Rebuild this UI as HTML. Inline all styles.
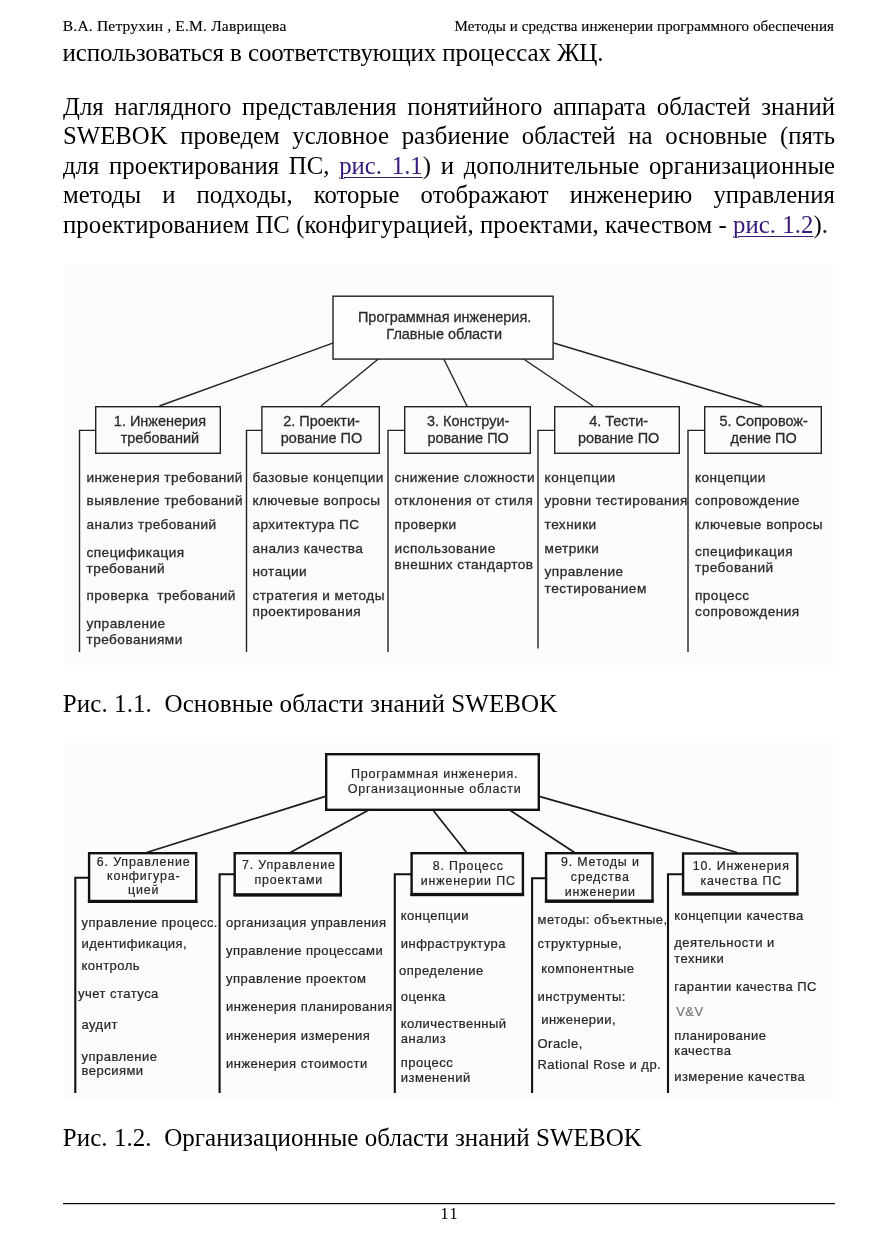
<!DOCTYPE html>
<html><head><meta charset="utf-8"><title>SWEBOK</title>
<style>
html,body{margin:0;padding:0;background:#fff;}
body{width:877px;height:1241px;position:relative;overflow:hidden;}
svg{position:absolute;left:0;top:0;will-change:transform;}
.pl{position:absolute;left:63px;width:772px;font-family:"Liberation Serif",serif;font-size:24.75px;line-height:24.75px;color:#000;white-space:nowrap;}
.j{text-align:justify;text-align-last:justify;white-space:normal;}
.lk{color:#38187a;text-decoration:underline;text-decoration-thickness:1.3px;text-underline-offset:3px;}
</style></head><body>
<svg width="877" height="1241" viewBox="0 0 877 1241">
<text x="62.8" y="30.9" font-size="15.5" font-family="Liberation Serif" fill="#000" stroke="#000" stroke-width="0.15" textLength="223.5" lengthAdjust="spacing">В.А. Петрухин , Е.М. Лаврищева</text>
<text x="454.5" y="30.9" font-size="15" font-family="Liberation Serif" fill="#000" stroke="#000" stroke-width="0.15" textLength="379.5" lengthAdjust="spacing">Методы и средства инженерии программного обеспечения</text>
<text x="62.5" y="61" font-size="25" font-family="Liberation Serif" fill="#000" textLength="541" lengthAdjust="spacing">использоваться в соответствующих процессах ЖЦ.</text>
<rect x="64" y="264" width="769" height="401" fill="#fbfdfa"/>
<rect x="64" y="665" width="769" height="7" fill="#fdfdfb"/>
<rect x="64" y="744" width="769" height="356" fill="#fbfdfa"/>
<rect x="64" y="736" width="769" height="8" fill="#fdfdfb"/>
<rect x="333.0" y="296.2" width="220.09999999999994" height="62.90000000000001" stroke="#222" stroke-width="1.4" fill="#fdfdfc"/>
<text transform="translate(444.6,321.9) scale(0.965,1)" x="0" y="0" font-size="15.0" font-family="Liberation Sans" fill="#2b2b2b" text-anchor="middle" stroke="#2b2b2b" stroke-width="0.3">Программная инженерия.</text>
<text transform="translate(444.2,338.9) scale(0.965,1)" x="0" y="0" font-size="15.0" font-family="Liberation Sans" fill="#2b2b2b" text-anchor="middle" stroke="#2b2b2b" stroke-width="0.3">Главные области</text>
<rect x="95.7" y="406.7" width="124.6" height="46.6" stroke="#222" stroke-width="1.4" fill="none"/>
<text transform="translate(159.9,426.1) scale(0.965,1)" x="0" y="0" font-size="15.0" font-family="Liberation Sans" fill="#2b2b2b" text-anchor="middle" stroke="#2b2b2b" stroke-width="0.3">1. Инженерия</text>
<text transform="translate(159.9,442.8) scale(0.965,1)" x="0" y="0" font-size="15.0" font-family="Liberation Sans" fill="#2b2b2b" text-anchor="middle" stroke="#2b2b2b" stroke-width="0.3">требований</text>
<rect x="261.9" y="406.7" width="117.4" height="46.6" stroke="#222" stroke-width="1.4" fill="none"/>
<text transform="translate(321.50000000000006,426.1) scale(0.965,1)" x="0" y="0" font-size="15.0" font-family="Liberation Sans" fill="#2b2b2b" text-anchor="middle" stroke="#2b2b2b" stroke-width="0.3">2. Проекти-</text>
<text transform="translate(321.50000000000006,442.8) scale(0.965,1)" x="0" y="0" font-size="15.0" font-family="Liberation Sans" fill="#2b2b2b" text-anchor="middle" stroke="#2b2b2b" stroke-width="0.3">рование ПО</text>
<rect x="404.7" y="406.7" width="125.6" height="46.6" stroke="#222" stroke-width="1.4" fill="none"/>
<text transform="translate(468.1,426.1) scale(0.965,1)" x="0" y="0" font-size="15.0" font-family="Liberation Sans" fill="#2b2b2b" text-anchor="middle" stroke="#2b2b2b" stroke-width="0.3">3. Конструи-</text>
<text transform="translate(468.1,442.8) scale(0.965,1)" x="0" y="0" font-size="15.0" font-family="Liberation Sans" fill="#2b2b2b" text-anchor="middle" stroke="#2b2b2b" stroke-width="0.3">рование ПО</text>
<rect x="554.7" y="406.7" width="124.6" height="46.6" stroke="#222" stroke-width="1.4" fill="none"/>
<text transform="translate(618.6,426.1) scale(0.965,1)" x="0" y="0" font-size="15.0" font-family="Liberation Sans" fill="#2b2b2b" text-anchor="middle" stroke="#2b2b2b" stroke-width="0.3">4. Тести-</text>
<text transform="translate(618.6,442.8) scale(0.965,1)" x="0" y="0" font-size="15.0" font-family="Liberation Sans" fill="#2b2b2b" text-anchor="middle" stroke="#2b2b2b" stroke-width="0.3">рование ПО</text>
<rect x="704.7" y="406.7" width="116.6" height="46.6" stroke="#222" stroke-width="1.4" fill="none"/>
<text transform="translate(763.6,426.1) scale(0.965,1)" x="0" y="0" font-size="15.0" font-family="Liberation Sans" fill="#2b2b2b" text-anchor="middle" stroke="#2b2b2b" stroke-width="0.3">5. Сопровож-</text>
<text transform="translate(763.6,442.8) scale(0.965,1)" x="0" y="0" font-size="15.0" font-family="Liberation Sans" fill="#2b2b2b" text-anchor="middle" stroke="#2b2b2b" stroke-width="0.3">дение ПО</text>
<line x1="333.4" y1="342.8" x2="159.4" y2="406" stroke="#222" stroke-width="1.4"/>
<line x1="378.3" y1="359" x2="321" y2="406" stroke="#222" stroke-width="1.4"/>
<line x1="443.8" y1="359" x2="467" y2="406" stroke="#222" stroke-width="1.4"/>
<line x1="523.6" y1="359" x2="593" y2="406" stroke="#222" stroke-width="1.4"/>
<line x1="553.7" y1="343" x2="762.4" y2="406" stroke="#222" stroke-width="1.4"/>
<polyline points="95,430.4 79.5,430.4 79.5,652" fill="none" stroke="#222" stroke-width="1.4"/>
<polyline points="262,430.4 246.5,430.4 246.5,652" fill="none" stroke="#222" stroke-width="1.4"/>
<polyline points="404,430.4 388,430.4 388,652" fill="none" stroke="#222" stroke-width="1.4"/>
<polyline points="554,430.4 538,430.4 538,648.5" fill="none" stroke="#222" stroke-width="1.4"/>
<polyline points="704,430.4 688,430.4 688,652" fill="none" stroke="#222" stroke-width="1.4"/>
<text x="86.5" y="481.7" font-size="13.6" font-family="Liberation Sans" fill="#2b2b2b" stroke="#2b2b2b" stroke-width="0.3" letter-spacing="0.47" xml:space="preserve">инженерия требований</text>
<text x="86.5" y="505.3" font-size="13.6" font-family="Liberation Sans" fill="#2b2b2b" stroke="#2b2b2b" stroke-width="0.3" letter-spacing="0.47" xml:space="preserve">выявление требований</text>
<text x="86.5" y="528.6" font-size="13.6" font-family="Liberation Sans" fill="#2b2b2b" stroke="#2b2b2b" stroke-width="0.3" letter-spacing="0.47" xml:space="preserve">анализ требований</text>
<text x="86.5" y="556.6" font-size="13.6" font-family="Liberation Sans" fill="#2b2b2b" stroke="#2b2b2b" stroke-width="0.3" letter-spacing="0.47" xml:space="preserve">спецификация</text>
<text x="86.5" y="573" font-size="13.6" font-family="Liberation Sans" fill="#2b2b2b" stroke="#2b2b2b" stroke-width="0.3" letter-spacing="0.47" xml:space="preserve">требований</text>
<text x="86.5" y="599.7" font-size="13.6" font-family="Liberation Sans" fill="#2b2b2b" stroke="#2b2b2b" stroke-width="0.3" letter-spacing="0.47" xml:space="preserve">проверка  требований</text>
<text x="86.5" y="628" font-size="13.6" font-family="Liberation Sans" fill="#2b2b2b" stroke="#2b2b2b" stroke-width="0.3" letter-spacing="0.47" xml:space="preserve">управление</text>
<text x="86.5" y="644" font-size="13.6" font-family="Liberation Sans" fill="#2b2b2b" stroke="#2b2b2b" stroke-width="0.3" letter-spacing="0.47" xml:space="preserve">требованиями</text>
<text x="252.4" y="481.5" font-size="13.6" font-family="Liberation Sans" fill="#2b2b2b" stroke="#2b2b2b" stroke-width="0.3" letter-spacing="0.47" xml:space="preserve">базовые концепции</text>
<text x="252.4" y="504.8" font-size="13.6" font-family="Liberation Sans" fill="#2b2b2b" stroke="#2b2b2b" stroke-width="0.3" letter-spacing="0.47" xml:space="preserve">ключевые вопросы</text>
<text x="252.4" y="528.9" font-size="13.6" font-family="Liberation Sans" fill="#2b2b2b" stroke="#2b2b2b" stroke-width="0.3" letter-spacing="0.47" xml:space="preserve">архитектура ПС</text>
<text x="252.4" y="552.6" font-size="13.6" font-family="Liberation Sans" fill="#2b2b2b" stroke="#2b2b2b" stroke-width="0.3" letter-spacing="0.47" xml:space="preserve">анализ качества</text>
<text x="252.4" y="576.4" font-size="13.6" font-family="Liberation Sans" fill="#2b2b2b" stroke="#2b2b2b" stroke-width="0.3" letter-spacing="0.47" xml:space="preserve">нотации</text>
<text x="252.4" y="600" font-size="13.6" font-family="Liberation Sans" fill="#2b2b2b" stroke="#2b2b2b" stroke-width="0.3" letter-spacing="0.47" xml:space="preserve">стратегия и методы</text>
<text x="252.4" y="615.6" font-size="13.6" font-family="Liberation Sans" fill="#2b2b2b" stroke="#2b2b2b" stroke-width="0.3" letter-spacing="0.47" xml:space="preserve">проектирования</text>
<text x="394.6" y="481.5" font-size="13.6" font-family="Liberation Sans" fill="#2b2b2b" stroke="#2b2b2b" stroke-width="0.3" letter-spacing="0.47" xml:space="preserve">снижение сложности</text>
<text x="394.6" y="505.2" font-size="13.6" font-family="Liberation Sans" fill="#2b2b2b" stroke="#2b2b2b" stroke-width="0.3" letter-spacing="0.47" xml:space="preserve">отклонения от стиля</text>
<text x="394.6" y="528.9" font-size="13.6" font-family="Liberation Sans" fill="#2b2b2b" stroke="#2b2b2b" stroke-width="0.3" letter-spacing="0.47" xml:space="preserve">проверки</text>
<text x="394.6" y="552.6" font-size="13.6" font-family="Liberation Sans" fill="#2b2b2b" stroke="#2b2b2b" stroke-width="0.3" letter-spacing="0.47" xml:space="preserve">использование</text>
<text x="394.6" y="569" font-size="13.6" font-family="Liberation Sans" fill="#2b2b2b" stroke="#2b2b2b" stroke-width="0.3" letter-spacing="0.47" xml:space="preserve">внешних стандартов</text>
<text x="544.6" y="481.5" font-size="13.6" font-family="Liberation Sans" fill="#2b2b2b" stroke="#2b2b2b" stroke-width="0.3" letter-spacing="0.47" xml:space="preserve">концепции</text>
<text x="544.6" y="505.2" font-size="13.6" font-family="Liberation Sans" fill="#2b2b2b" stroke="#2b2b2b" stroke-width="0.3" letter-spacing="0.47" xml:space="preserve">уровни тестирования</text>
<text x="544.6" y="528.9" font-size="13.6" font-family="Liberation Sans" fill="#2b2b2b" stroke="#2b2b2b" stroke-width="0.3" letter-spacing="0.47" xml:space="preserve">техники</text>
<text x="544.6" y="552.6" font-size="13.6" font-family="Liberation Sans" fill="#2b2b2b" stroke="#2b2b2b" stroke-width="0.3" letter-spacing="0.47" xml:space="preserve">метрики</text>
<text x="544.6" y="576.4" font-size="13.6" font-family="Liberation Sans" fill="#2b2b2b" stroke="#2b2b2b" stroke-width="0.3" letter-spacing="0.47" xml:space="preserve">управление</text>
<text x="544.6" y="592.8" font-size="13.6" font-family="Liberation Sans" fill="#2b2b2b" stroke="#2b2b2b" stroke-width="0.3" letter-spacing="0.47" xml:space="preserve">тестированием</text>
<text x="695" y="481.5" font-size="13.6" font-family="Liberation Sans" fill="#2b2b2b" stroke="#2b2b2b" stroke-width="0.3" letter-spacing="0.47" xml:space="preserve">концепции</text>
<text x="695" y="505.2" font-size="13.6" font-family="Liberation Sans" fill="#2b2b2b" stroke="#2b2b2b" stroke-width="0.3" letter-spacing="0.47" xml:space="preserve">сопровождение</text>
<text x="695" y="528.9" font-size="13.6" font-family="Liberation Sans" fill="#2b2b2b" stroke="#2b2b2b" stroke-width="0.3" letter-spacing="0.47" xml:space="preserve">ключевые вопросы</text>
<text x="695" y="556.3" font-size="13.6" font-family="Liberation Sans" fill="#2b2b2b" stroke="#2b2b2b" stroke-width="0.3" letter-spacing="0.47" xml:space="preserve">спецификация</text>
<text x="695" y="571.8" font-size="13.6" font-family="Liberation Sans" fill="#2b2b2b" stroke="#2b2b2b" stroke-width="0.3" letter-spacing="0.47" xml:space="preserve">требований</text>
<text x="695" y="600" font-size="13.6" font-family="Liberation Sans" fill="#2b2b2b" stroke="#2b2b2b" stroke-width="0.3" letter-spacing="0.47" xml:space="preserve">процесс</text>
<text x="695" y="615.6" font-size="13.6" font-family="Liberation Sans" fill="#2b2b2b" stroke="#2b2b2b" stroke-width="0.3" letter-spacing="0.47" xml:space="preserve">сопровождения</text>
<text x="62.8" y="711.9" font-size="25" font-family="Liberation Serif" fill="#000" textLength="494.5" lengthAdjust="spacing" xml:space="preserve">Рис. 1.1.  Основные области знаний SWEBOK</text>
<rect x="326.2" y="754.2" width="212.6" height="55.6" stroke="#111" stroke-width="2.4" fill="#fdfdfc"/>
<text x="434.67" y="778.1" font-size="12.5" font-family="Liberation Sans" fill="#262626" stroke="#262626" stroke-width="0.18" letter-spacing="0.8" text-anchor="middle">Программная инженерия.</text>
<text x="434.67" y="792.7" font-size="12.5" font-family="Liberation Sans" fill="#262626" stroke="#262626" stroke-width="0.18" letter-spacing="0.8" text-anchor="middle">Организационные области</text>
<rect x="89.10000000000001" y="853.2" width="107.1" height="48.6" stroke="#111" stroke-width="2.4" fill="none"/>
<rect x="87.9" y="899.8" width="109.5" height="3.2" fill="#111"/>
<text x="143.7" y="866.1" font-size="12.4" font-family="Liberation Sans" fill="#262626" stroke="#262626" stroke-width="0.2" letter-spacing="0.85" text-anchor="middle">6. Управление</text>
<text x="143.7" y="879.6" font-size="12.4" font-family="Liberation Sans" fill="#262626" stroke="#262626" stroke-width="0.2" letter-spacing="0.85" text-anchor="middle">конфигура-</text>
<text x="143.7" y="894.1" font-size="12.4" font-family="Liberation Sans" fill="#262626" stroke="#262626" stroke-width="0.2" letter-spacing="0.85" text-anchor="middle">цией</text>
<rect x="234.7" y="853.2" width="106.1" height="41.99999999999998" stroke="#111" stroke-width="2.4" fill="none"/>
<rect x="233.5" y="893.1999999999999" width="108.5" height="3.2" fill="#111"/>
<text x="288.8" y="869.4" font-size="12.4" font-family="Liberation Sans" fill="#262626" stroke="#262626" stroke-width="0.2" letter-spacing="0.85" text-anchor="middle">7. Управление</text>
<text x="288.8" y="884.4" font-size="12.4" font-family="Liberation Sans" fill="#262626" stroke="#262626" stroke-width="0.2" letter-spacing="0.85" text-anchor="middle">проектами</text>
<rect x="411.59999999999997" y="853.2" width="111.30000000000004" height="41.700000000000024" stroke="#111" stroke-width="2.4" fill="none"/>
<rect x="410.4" y="892.9" width="113.70000000000005" height="3.2" fill="#111"/>
<text x="468.3" y="869.9" font-size="12.4" font-family="Liberation Sans" fill="#262626" stroke="#262626" stroke-width="0.2" letter-spacing="0.85" text-anchor="middle">8. Процесс</text>
<text x="468.3" y="885.2" font-size="12.4" font-family="Liberation Sans" fill="#262626" stroke="#262626" stroke-width="0.2" letter-spacing="0.85" text-anchor="middle">инженерии ПС</text>
<rect x="546.1" y="853.2" width="106.40000000000006" height="48.30000000000005" stroke="#111" stroke-width="2.4" fill="none"/>
<rect x="544.9" y="899.5" width="108.80000000000007" height="3.2" fill="#111"/>
<text x="600.35" y="866.2" font-size="12.4" font-family="Liberation Sans" fill="#262626" stroke="#262626" stroke-width="0.2" letter-spacing="0.85" text-anchor="middle">9. Методы и</text>
<text x="600.35" y="880.8000000000001" font-size="12.4" font-family="Liberation Sans" fill="#262626" stroke="#262626" stroke-width="0.2" letter-spacing="0.85" text-anchor="middle">средства</text>
<text x="600.35" y="896.2" font-size="12.4" font-family="Liberation Sans" fill="#262626" stroke="#262626" stroke-width="0.2" letter-spacing="0.85" text-anchor="middle">инженерии</text>
<rect x="683.1" y="853.5" width="114.20000000000002" height="40.700000000000024" stroke="#111" stroke-width="2.4" fill="none"/>
<rect x="681.9" y="892.1999999999999" width="116.60000000000002" height="3.2" fill="#111"/>
<text x="741.2500000000001" y="869.8000000000001" font-size="12.4" font-family="Liberation Sans" fill="#262626" stroke="#262626" stroke-width="0.2" letter-spacing="0.85" text-anchor="middle">10. Инженерия</text>
<text x="741.2500000000001" y="884.9" font-size="12.4" font-family="Liberation Sans" fill="#262626" stroke="#262626" stroke-width="0.2" letter-spacing="0.85" text-anchor="middle">качества ПС</text>
<line x1="325.4" y1="796.4" x2="146.6" y2="852.5" stroke="#1a1a1a" stroke-width="1.7"/>
<line x1="368.8" y1="810" x2="290.3" y2="852.5" stroke="#1a1a1a" stroke-width="1.7"/>
<line x1="432.9" y1="810" x2="466.9" y2="853" stroke="#1a1a1a" stroke-width="1.7"/>
<line x1="509.6" y1="810" x2="575.3" y2="853" stroke="#1a1a1a" stroke-width="1.7"/>
<line x1="540" y1="796.6" x2="737" y2="852.5" stroke="#1a1a1a" stroke-width="1.7"/>
<polyline points="88,877.8 75.3,877.8 75.3,1093" fill="none" stroke="#111" stroke-width="2.1"/>
<polyline points="234,874.2 219.6,874.2 219.6,1093" fill="none" stroke="#111" stroke-width="2.1"/>
<polyline points="411,874.2 394.8,874.2 394.8,1093" fill="none" stroke="#111" stroke-width="2.1"/>
<polyline points="545,878.2 532.1,878.2 532.1,1093" fill="none" stroke="#111" stroke-width="2.1"/>
<polyline points="682,874.2 668,874.2 668,1093" fill="none" stroke="#111" stroke-width="2.1"/>
<text x="81.5" y="927" font-size="13" font-family="Liberation Sans" fill="#262626" stroke="#262626" stroke-width="0.22" letter-spacing="0.48">управление процесс.</text>
<text x="81.5" y="948.3" font-size="13" font-family="Liberation Sans" fill="#262626" stroke="#262626" stroke-width="0.22" letter-spacing="0.48">идентификация,</text>
<text x="81.5" y="969.6" font-size="13" font-family="Liberation Sans" fill="#262626" stroke="#262626" stroke-width="0.22" letter-spacing="0.48">контроль</text>
<text x="78" y="997.7" font-size="13" font-family="Liberation Sans" fill="#262626" stroke="#262626" stroke-width="0.22" letter-spacing="0.48">учет статуса</text>
<text x="81.5" y="1028.7" font-size="13" font-family="Liberation Sans" fill="#262626" stroke="#262626" stroke-width="0.22" letter-spacing="0.48">аудит</text>
<text x="81.5" y="1060.7" font-size="13" font-family="Liberation Sans" fill="#262626" stroke="#262626" stroke-width="0.22" letter-spacing="0.48">управление</text>
<text x="81.5" y="1074.9" font-size="13" font-family="Liberation Sans" fill="#262626" stroke="#262626" stroke-width="0.22" letter-spacing="0.48">версиями</text>
<text x="226" y="927" font-size="13" font-family="Liberation Sans" fill="#262626" stroke="#262626" stroke-width="0.22" letter-spacing="0.48">организация управления</text>
<text x="226" y="955.1" font-size="13" font-family="Liberation Sans" fill="#262626" stroke="#262626" stroke-width="0.22" letter-spacing="0.48">управление процессами</text>
<text x="226" y="983.2" font-size="13" font-family="Liberation Sans" fill="#262626" stroke="#262626" stroke-width="0.22" letter-spacing="0.48">управление проектом</text>
<text x="226" y="1011.3" font-size="13" font-family="Liberation Sans" fill="#262626" stroke="#262626" stroke-width="0.22" letter-spacing="0.48">инженерия планирования</text>
<text x="226" y="1040.4" font-size="13" font-family="Liberation Sans" fill="#262626" stroke="#262626" stroke-width="0.22" letter-spacing="0.48">инженерия измерения</text>
<text x="226" y="1067.5" font-size="13" font-family="Liberation Sans" fill="#262626" stroke="#262626" stroke-width="0.22" letter-spacing="0.48">инженерия стоимости</text>
<text x="400.8" y="919.6" font-size="13" font-family="Liberation Sans" fill="#262626" stroke="#262626" stroke-width="0.22" letter-spacing="0.48">концепции</text>
<text x="400.8" y="947.9" font-size="13" font-family="Liberation Sans" fill="#262626" stroke="#262626" stroke-width="0.22" letter-spacing="0.48">инфраструктура</text>
<text x="399" y="975.3" font-size="13" font-family="Liberation Sans" fill="#262626" stroke="#262626" stroke-width="0.22" letter-spacing="0.48">определение</text>
<text x="400.8" y="1000.5" font-size="13" font-family="Liberation Sans" fill="#262626" stroke="#262626" stroke-width="0.22" letter-spacing="0.48">оценка</text>
<text x="400.8" y="1028.2" font-size="13" font-family="Liberation Sans" fill="#262626" stroke="#262626" stroke-width="0.22" letter-spacing="0.48">количественный</text>
<text x="400.8" y="1043.2" font-size="13" font-family="Liberation Sans" fill="#262626" stroke="#262626" stroke-width="0.22" letter-spacing="0.48">анализ</text>
<text x="400.8" y="1066.5" font-size="13" font-family="Liberation Sans" fill="#262626" stroke="#262626" stroke-width="0.22" letter-spacing="0.48">процесс</text>
<text x="400.8" y="1082" font-size="13" font-family="Liberation Sans" fill="#262626" stroke="#262626" stroke-width="0.22" letter-spacing="0.48">изменений</text>
<text x="537.5" y="923.8" font-size="13" font-family="Liberation Sans" fill="#262626" stroke="#262626" stroke-width="0.22" letter-spacing="0.48">методы: объектные,</text>
<text x="537.5" y="948.3" font-size="13" font-family="Liberation Sans" fill="#262626" stroke="#262626" stroke-width="0.22" letter-spacing="0.48">структурные,</text>
<text x="541.2" y="972.6" font-size="13" font-family="Liberation Sans" fill="#262626" stroke="#262626" stroke-width="0.22" letter-spacing="0.48">компонентные</text>
<text x="537.5" y="1000.8" font-size="13" font-family="Liberation Sans" fill="#262626" stroke="#262626" stroke-width="0.22" letter-spacing="0.48">инструменты:</text>
<text x="541.2" y="1023.6" font-size="13" font-family="Liberation Sans" fill="#262626" stroke="#262626" stroke-width="0.22" letter-spacing="0.48">инженерии,</text>
<text x="537.5" y="1047.9" font-size="13" font-family="Liberation Sans" fill="#262626" stroke="#262626" stroke-width="0.22" letter-spacing="0.48">Oracle,</text>
<text x="537.5" y="1069.3" font-size="13" font-family="Liberation Sans" fill="#262626" stroke="#262626" stroke-width="0.22" letter-spacing="0.48">Rational Rose и др.</text>
<text x="674.2" y="920" font-size="13" font-family="Liberation Sans" fill="#262626" stroke="#262626" stroke-width="0.22" letter-spacing="0.48">концепции качества</text>
<text x="674.2" y="947.3" font-size="13" font-family="Liberation Sans" fill="#262626" stroke="#262626" stroke-width="0.22" letter-spacing="0.48">деятельности и</text>
<text x="674.2" y="962.7" font-size="13" font-family="Liberation Sans" fill="#262626" stroke="#262626" stroke-width="0.22" letter-spacing="0.48">техники</text>
<text x="674.2" y="991" font-size="13" font-family="Liberation Sans" fill="#262626" stroke="#262626" stroke-width="0.22" letter-spacing="0.48">гарантии качества ПС</text>
<text x="676.2" y="1015.7" font-size="13" font-family="Liberation Sans" fill="#777" stroke="#777" stroke-width="0.22" letter-spacing="0.48">V&amp;V</text>
<text x="674.2" y="1039.7" font-size="13" font-family="Liberation Sans" fill="#262626" stroke="#262626" stroke-width="0.22" letter-spacing="0.48">планирование</text>
<text x="674.2" y="1054.7" font-size="13" font-family="Liberation Sans" fill="#262626" stroke="#262626" stroke-width="0.22" letter-spacing="0.48">качества</text>
<text x="674.2" y="1080.8" font-size="13" font-family="Liberation Sans" fill="#262626" stroke="#262626" stroke-width="0.22" letter-spacing="0.48">измерение качества</text>
<text x="62.8" y="1145.8" font-size="25" font-family="Liberation Serif" fill="#000" textLength="579" lengthAdjust="spacing" xml:space="preserve">Рис. 1.2.  Организационные области знаний SWEBOK</text>
<rect x="63" y="1203" width="772" height="1.2" fill="#000"/>
<text x="440.6" y="1219" font-size="16" font-family="Liberation Serif" fill="#000" stroke="#000" stroke-width="0.1" letter-spacing="1.6">11</text>
</svg>
<div class="pl j" style="top:95.07px">Для наглядного представления понятийного аппарата областей знаний</div><div class="pl j" style="top:124.07px">SWEBOK проведем условное разбиение областей на основные (пять</div><div class="pl j" style="top:153.77px">для проектирования ПС, <u class="lk">рис. 1.1</u>) и дополнительные организационные</div><div class="pl j" style="top:183.37px">методы и подходы, которые отображают инженерию управления</div><div class="pl" style="top:213.07px;letter-spacing:0.06px">проектированием ПС (конфигурацией, проектами, качеством - <u class="lk">рис. 1.2</u>).</div>
</body></html>
